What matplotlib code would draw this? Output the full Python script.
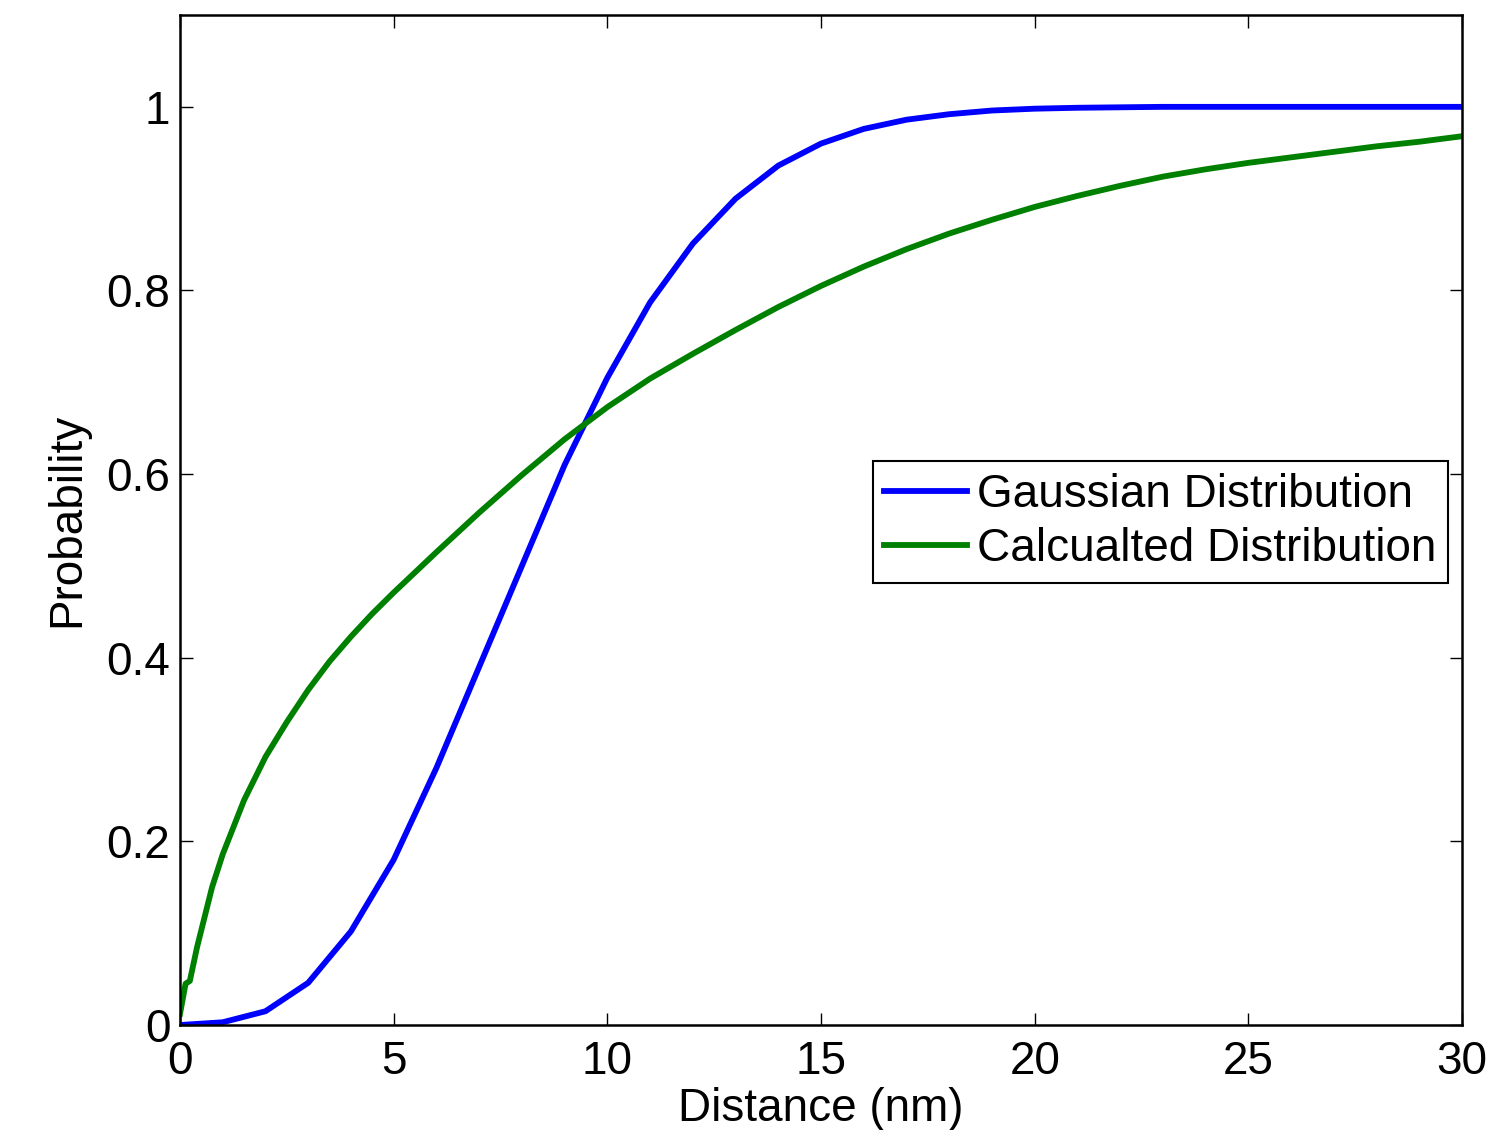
import matplotlib
matplotlib.use("Agg")
import matplotlib.pyplot as plt

# Gaussian distribution (sampled at integer distances)
gauss_x = list(range(0, 31))
gauss_y = [0.0, 0.003, 0.015, 0.046, 0.102, 0.18, 0.28, 0.39, 0.5, 0.61,
           0.705, 0.787, 0.851, 0.90, 0.936, 0.96, 0.976, 0.986, 0.992, 0.996,
           0.998, 0.999, 0.9995, 1.0, 1.0, 1.0, 1.0, 1.0, 1.0, 1.0, 1.0]

# Calculated distribution
calc_x = [0, 0.13, 0.23, 0.4, 0.75, 1.0, 1.5, 2.0, 2.5, 3.0, 3.5, 4.0, 4.5, 5.0,
          6, 7, 8, 9, 10, 11, 12, 13, 14, 15, 16, 17, 18, 19, 20,
          21, 22, 23, 24, 25, 26, 27, 28, 29, 30]
calc_y = [0.012, 0.045, 0.048, 0.085, 0.15, 0.186, 0.245, 0.292, 0.33, 0.365, 0.396, 0.423, 0.448, 0.471,
          0.515, 0.558, 0.599, 0.638, 0.673, 0.704, 0.731, 0.757, 0.782, 0.805, 0.826, 0.845, 0.862, 0.877, 0.891,
          0.903, 0.914, 0.924, 0.932, 0.939, 0.945, 0.951, 0.957, 0.962, 0.968]

plt.rcParams["font.family"] = ["Liberation Sans", "DejaVu Sans"]
fs = 33

fig = plt.figure(figsize=(15, 11.3), dpi=100)
ax = fig.add_axes([0.12, 0.0929, 0.8547, 0.8938])

ax.plot(gauss_x, gauss_y, color="#0000ff", lw=4.2, label="Gaussian Distribution")
ax.plot(calc_x, calc_y, color="#008000", lw=4.2, label="Calcualted Distribution")

ax.set_xlim(0, 30)
ax.set_ylim(0, 1.1)
ax.set_xticks(range(0, 31, 5))
ax.set_yticks([0, 0.2, 0.4, 0.6, 0.8, 1.0])
ax.set_yticklabels(["0", "0.2", "0.4", "0.6", "0.8", "1"])

ax.tick_params(direction="in", length=9, width=1.0, labelsize=fs,
               top=True, right=True)
ax.tick_params(axis="x", pad=11)
ax.tick_params(axis="y", pad=7)
for s in ax.spines.values():
    s.set_linewidth(1.8)

ax.set_xlabel("Distance (nm)", fontsize=fs, labelpad=2)
ax.set_ylabel("Probability", fontsize=fs, labelpad=12)

leg = ax.legend(loc="upper right", bbox_to_anchor=(0.989, 0.558), fontsize=fs,
                fancybox=False, framealpha=1, edgecolor="black",
                handlelength=1.81, handletextpad=0.22, labelspacing=0.23,
                borderpad=0.25, borderaxespad=0)
leg.get_frame().set_linewidth(1.5)

plt.savefig("out.png")
